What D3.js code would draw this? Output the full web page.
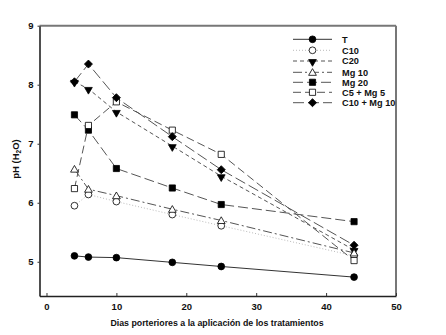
<!DOCTYPE html>
<html><head><meta charset="utf-8">
<script src="https://cdn.jsdelivr.net/npm/d3@7"></script>
<style>body{margin:0;background:#fff}svg{display:block}text{font-family:"Liberation Sans",Arial,sans-serif;font-weight:bold;fill:#111}</style>
</head><body><svg id="c" width="446" height="335"></svg>
<script>
const days = [4, 6, 10, 18, 25, 44];
const seriesNames = ["T", "C10", "C20", "Mg 10", "Mg 20", "C5 + Mg 5", "C10 + Mg 10"];
const T = [5.10, 5.08, 5.07, 4.99, 4.92, 4.74];
const C10 = [5.95, 6.14, 6.02, 5.80, 5.61, 5.10];
const C20 = [8.05, 7.93, 7.54, 6.96, 6.45, 5.20];
const Mg10 = [6.57, 6.23, 6.12, 5.89, 5.70, 5.15];
const Mg20 = [7.49, 7.23, 6.58, 6.25, 5.97, 5.68];
const C5Mg5 = [6.24, 7.31, 7.71, 7.23, 6.82, 5.02];
const C10Mg10 = [8.05, 8.35, 7.78, 7.12, 6.56, 5.28];
const xTicks = [0, 10, 20, 30, 40, 50];
const yTicks = [5, 6, 7, 8, 9];

const seriesValues = [T, C10, C20, Mg10, Mg20, C5Mg5, C10Mg10];
const styles = [
  {sym: d3.symbolCircle, size: 36, fill: "#000", dash: null, stroke: "#333"},
  {sym: d3.symbolCircle, size: 36, fill: "#fff", dash: "1,2", stroke: "#bbb"},
  {sym: d3.symbolTriangle, size: 26, fill: "#000", dash: "4,3", stroke: "#555", rot: 180},
  {sym: d3.symbolTriangle, size: 26, fill: "#fff", dash: "9,3,2,3", stroke: "#555"},
  {sym: d3.symbolSquare, size: 38, fill: "#000", dash: "10,4", stroke: "#555"},
  {sym: d3.symbolSquare, size: 38, fill: "#fff", dash: "8,4", stroke: "#555"},
  {sym: d3.symbolSquare, size: 32, fill: "#000", dash: "11,4", stroke: "#555", diamond: true}
];

const svg = d3.select("#c");
const pLeft = 39.5, pRight = 396, pTop = 25.7, pBottom = 296;
const x = d3.scaleLinear().domain([-1, 50]).range([pLeft, pRight]);
const y = d3.scaleLinear().domain([4.42, 9]).range([pBottom, pTop]);

svg.append("line").attr("x1", pLeft).attr("x2", pRight).attr("y1", pTop).attr("y2", pTop).attr("stroke", "#777").attr("stroke-width", 2);
svg.append("line").attr("x1", pRight).attr("x2", pRight).attr("y1", pTop).attr("y2", pBottom).attr("stroke", "#777").attr("stroke-width", 2);

const xAxis = svg.append("g").attr("transform", `translate(0,${pBottom})`)
  .call(d3.axisBottom(x).tickValues(xTicks).tickFormat(d3.format("d")).tickSizeInner(-3).tickSizeOuter(0).tickPadding(7));
const yAxis = svg.append("g").attr("transform", `translate(${pLeft},0)`)
  .call(d3.axisLeft(y).tickValues(yTicks).tickFormat(d3.format("d")).tickSizeInner(2).tickSizeOuter(0).tickPadding(4));
[xAxis, yAxis].forEach(g => {
  g.select(".domain").attr("stroke", "#222").attr("stroke-width", 1.6);
  g.selectAll(".tick line").attr("stroke", "#333");
  g.selectAll(".tick text").attr("font-size", 9.5).attr("font-weight", "bold").attr("fill", "#111");
});

svg.append("text").attr("x", 217).attr("y", 326).attr("text-anchor", "middle").attr("font-size", 8.8)
  .text("Dias porteriores a la aplicación de los tratamientos");
const yt = svg.append("text").attr("transform", "translate(19,159) rotate(-90)").attr("text-anchor", "middle").attr("font-size", 9.5);
yt.append("tspan").text("pH (H");
yt.append("tspan").attr("font-size", 6.5).attr("dy", 2).text("2");
yt.append("tspan").attr("dy", -2).text("O)");

function symPath(st) {
  return d3.symbol().type(st.sym).size(st.size)();
}
function symTransform(st, px, py) {
  let t = `translate(${px},${py})`;
  if (st.rot) t += ` rotate(${st.rot}) translate(0,-0.8)`;
  else if (st.sym === d3.symbolTriangle) t += " translate(0,0.8)";
  if (st.diamond) t += " rotate(45)";
  return t;
}

const line = d3.line().x((d, i) => x(days[i])).y(d => y(d));
seriesValues.forEach((vals, k) => {
  const st = styles[k];
  svg.append("path").datum(vals).attr("d", line).attr("fill", "none")
    .attr("stroke", st.stroke).attr("stroke-width", 1).attr("stroke-dasharray", st.dash);
});
seriesValues.forEach((vals, k) => {
  const st = styles[k];
  svg.append("g").selectAll("path").data(vals).join("path")
    .attr("d", symPath(st))
    .attr("transform", (d, i) => symTransform(st, x(days[i]), y(d)))
    .attr("fill", st.fill).attr("stroke", "#000").attr("stroke-width", 0.8);
});

const lg = svg.append("g");
const rowY = [39.3, 50.3, 61, 72.3, 82.3, 92.3, 102.7];
seriesNames.forEach((name, k) => {
  const st = styles[k];
  const yy = rowY[k];
  lg.append("line").attr("x1", 293).attr("x2", 332).attr("y1", yy).attr("y2", yy)
    .attr("stroke", st.stroke).attr("stroke-width", 1).attr("stroke-dasharray", st.dash);
  lg.append("path").attr("d", symPath(st)).attr("transform", symTransform(st, 312.5, yy))
    .attr("fill", st.fill).attr("stroke", "#000").attr("stroke-width", 0.8);
  lg.append("text").attr("x", 342).attr("y", yy).attr("dy", "0.35em").attr("font-size", 9.2).text(name);
});
</script></body></html>
